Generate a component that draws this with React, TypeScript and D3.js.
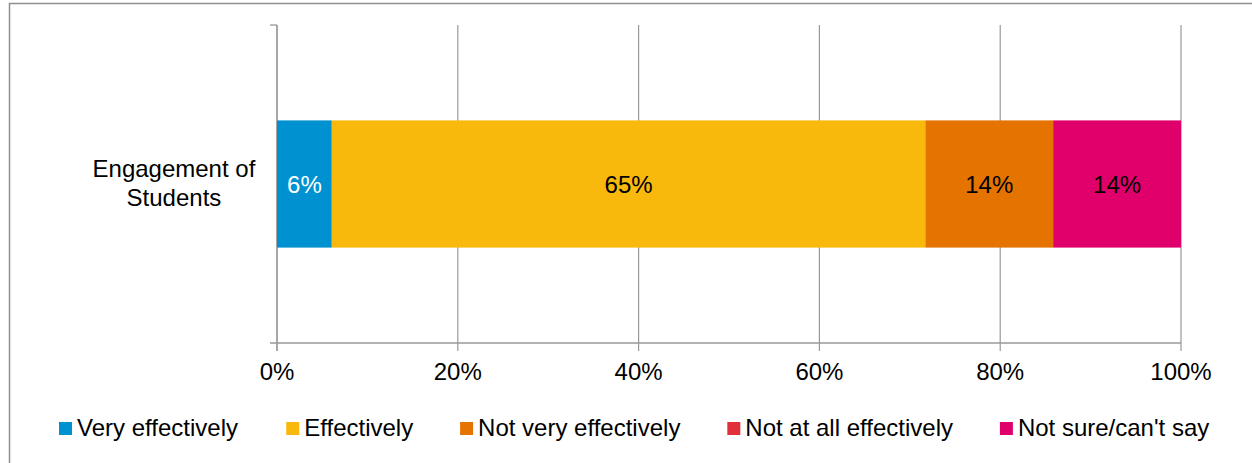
import React from "react";
import * as d3 from "d3";

const categories = ["Engagement of Students"];
const categoryLines = [["Engagement of", "Students"]];
const seriesNames = [
  "Very effectively",
  "Effectively",
  "Not very effectively",
  "Not at all effectively",
  "Not sure/can't say",
];
const seriesColors = ["#0092D0", "#F9B80C", "#E57300", "#E2303A", "#DF006B"];
const labelColors = ["#ffffff", "#000000", "#000000", "#000000", "#000000"];
// percentage values per series (one category)
const veryEffectively = [6];
const effectively = [65];
const notVeryEffectively = [14];
const notAtAllEffectively = [0];
const notSure = [14];
const xTicks = [0, 0.2, 0.4, 0.6, 0.8, 1];

const W = 1252;
const H = 463;
const FONT = "'Liberation Sans', Arial, sans-serif";

export default function App() {
  const seriesValues = [veryEffectively, effectively, notVeryEffectively, notAtAllEffectively, notSure];
  const rows = categories.map((c, i) => {
    const r: any = { category: c };
    seriesNames.forEach((s, k) => (r[s] = seriesValues[k][i]));
    return r;
  });
  const stacked = d3.stack<any>().keys(seriesNames).offset(d3.stackOffsetExpand)(rows);

  const plotLeft = 277;
  const plotRight = 1181;
  const plotTop = 25;
  const plotBottom = 343;
  const x = d3.scaleLinear().domain([0, 1]).range([plotLeft, plotRight]);
  const y = d3
    .scaleBand<string>()
    .domain(categories)
    .range([plotTop, plotBottom])
    .paddingInner(0.6)
    .paddingOuter(0.3);
  const fmt = d3.format(".0%");
  const grid = "#999999";

  // legend layout
  const legendY = 428;
  const sq = 13;
  const charW = (s: string) => {
    const w: Record<string, number> = {
      V: 0.667, e: 0.556, r: 0.333, y: 0.5, " ": 0.278, f: 0.278, c: 0.5, t: 0.278, i: 0.222,
      v: 0.5, l: 0.222, E: 0.667, N: 0.722, o: 0.556, a: 0.556, s: 0.5, u: 0.556, "/": 0.278,
      n: 0.556, "'": 0.191,
    };
    return s.split("").reduce((acc, ch) => acc + (w[ch] ?? 0.556), 0) * 24;
  };
  let lx = 59;
  const legendItems = seriesNames.map((name, i) => {
    const item = { name, color: seriesColors[i], x: lx };
    lx += sq + 5 + charW(name) + 46.5;
    return item;
  });

  return (
    <svg
      width={W}
      height={H}
      style={{ position: "absolute", left: 0, top: 0, background: "#fff" }}
      fontFamily={FONT}
    >
      <rect x={9.5} y={3.5} width={1300} height={500} fill="#fff" stroke="#8f8f8f" strokeWidth={1.5} />
      {/* gridlines */}
      {xTicks.map((t) => (
        <line key={"g" + t} x1={x(t)} x2={x(t)} y1={plotTop} y2={plotBottom + 8} stroke={grid} strokeWidth={1.2} />
      ))}
      {/* y axis */}
      <line x1={plotLeft} x2={plotLeft} y1={plotTop} y2={plotBottom + 8} stroke={grid} strokeWidth={1.3} />
      <line x1={plotLeft - 7} x2={plotLeft} y1={plotTop} y2={plotTop} stroke={grid} strokeWidth={1.3} />
      {/* x axis */}
      <line x1={plotLeft - 7} x2={plotRight} y1={plotBottom} y2={plotBottom} stroke={grid} strokeWidth={1.3} />
      {/* bars */}
      {stacked.map((layer, k) =>
        layer.map((d, i) => {
          const x0 = x(d[0]);
          const x1 = x(d[1]);
          const by = y(categories[i]) as number;
          const bw = y.bandwidth();
          const v = seriesValues[k][i];
          return (
            <g key={k + "-" + i}>
              <rect x={x0} y={by} width={Math.max(0, x1 - x0)} height={bw} fill={seriesColors[k]} />
              {v > 0 && (
                <text
                  x={(x0 + x1) / 2}
                  y={by + bw / 2 + 8.5}
                  textAnchor="middle"
                  fontSize={24}
                  fill={labelColors[k]}
                >
                  {v + "%"}
                </text>
              )}
            </g>
          );
        })
      )}
      {/* category labels */}
      {categories.map((c, i) => {
        const cy = (y(c) as number) + y.bandwidth() / 2;
        const lines = categoryLines[i];
        const cx = 252 - charW(lines[0]) / 2;
        return (
          <text key={c} x={cx} textAnchor="middle" fontSize={24} fill="#000">
            {lines.map((ln, j) => (
              <tspan key={j} x={cx} y={cy - 1.5 + (j - (lines.length - 1) / 2) * 29 + 8.5}>
                {ln}
              </tspan>
            ))}
          </text>
        );
      })}
      {/* tick labels */}
      {xTicks.map((t) => (
        <text key={"t" + t} x={x(t)} y={380} textAnchor="middle" fontSize={24} fill="#000">
          {fmt(t)}
        </text>
      ))}
      {/* legend */}
      {legendItems.map((it) => (
        <g key={it.name}>
          <rect x={it.x} y={legendY - 6} width={sq} height={sq} fill={it.color} />
          <text x={it.x + sq + 5} y={legendY + 8} fontSize={24} fill="#000">
            {it.name}
          </text>
        </g>
      ))}
    </svg>
  );
}
